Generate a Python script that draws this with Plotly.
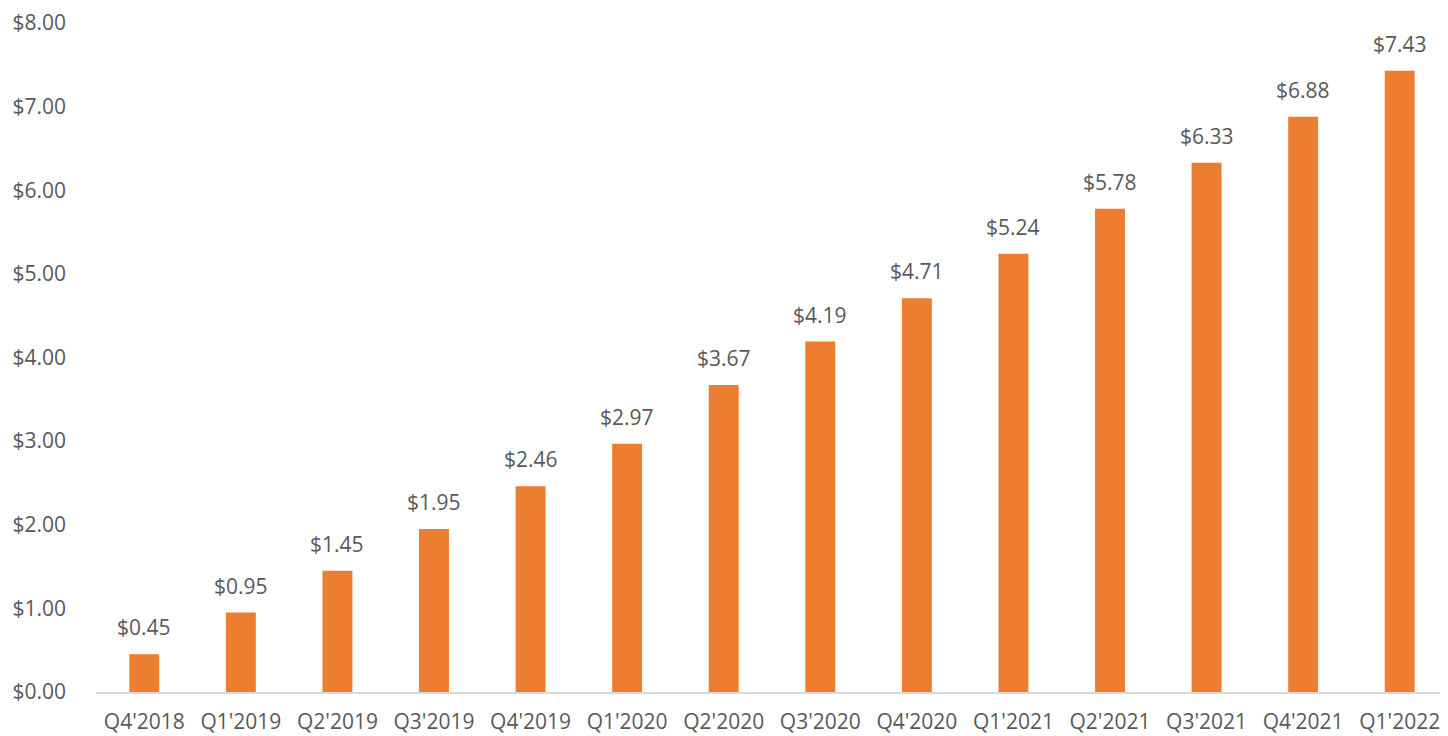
import plotly.graph_objects as go

quarters = ["Q4'2018", "Q1'2019", "Q2'2019", "Q3'2019", "Q4'2019", "Q1'2020", "Q2'2020",
            "Q3'2020", "Q4'2020", "Q1'2021", "Q2'2021", "Q3'2021", "Q4'2021", "Q1'2022"]
values = [0.45, 0.95, 1.45, 1.95, 2.46, 2.97, 3.67, 4.19, 4.71, 5.24, 5.78, 6.33, 6.88, 7.43]
y_ticks = [0, 1, 2, 3, 4, 5, 6, 7, 8]
y_tick_labels = ["$%.2f" % v for v in y_ticks]
value_labels = ["$%.2f" % v for v in values]

font_family = "Open Sans, Noto Sans, sans-serif"
text_color = "#595959"
fs = 21

fig = go.Figure(go.Bar(
    x=quarters, y=values,
    marker_color="#ED7D31",
    marker_line_width=0,
    cliponaxis=False,
))

for q, v, lab in zip(quarters, values, value_labels):
    fig.add_annotation(x=q, y=v, text=lab, showarrow=False, yanchor="bottom",
                       yshift=11, font=dict(family=font_family, size=fs, color=text_color))

fig.update_layout(
    width=1440, height=728,
    margin=dict(l=88, r=0, t=15, b=44),
    plot_bgcolor="white", paper_bgcolor="white",
    bargap=0.69,
    showlegend=False,
    font=dict(family=font_family, size=fs, color=text_color),
)
fig.update_yaxes(range=[0, 8], tickvals=y_ticks, ticktext=y_tick_labels,
                 showgrid=False, zeroline=False, showline=False, automargin=False,
                 ticklabeloverflow="allow",
                 ticklabelstandoff=29, tickfont=dict(size=fs, color=text_color))
fig.update_xaxes(showline=True, linecolor="#D9D9D9", linewidth=1.5,
                 automargin=False, showgrid=False, ticks="", ticklabeloverflow="allow",
                 tickfont=dict(size=fs, color=text_color), ticklabelstandoff=10)

fig.write_html("out.html")
